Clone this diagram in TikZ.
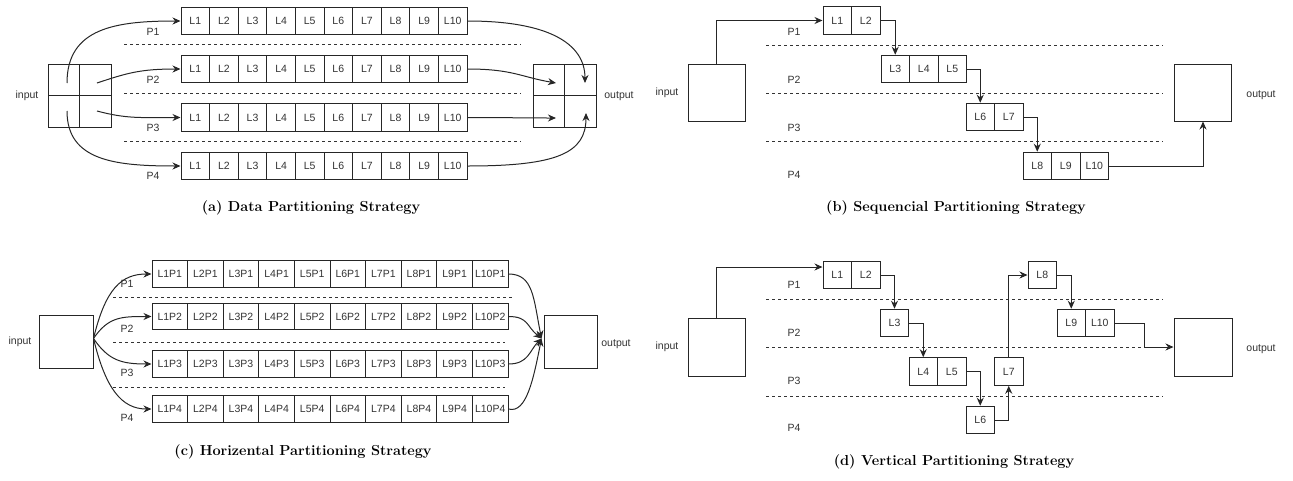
\documentclass[tikz,border=0pt]{standalone}
\usepackage{fontspec}
\newfontfamily\lab{Liberation Sans}
\usetikzlibrary{arrows.meta}
\begin{document}
\begin{tikzpicture}[x=1pt,y=-1pt,
 cell/.style={draw=black!85, line width=1pt, inner sep=0pt, minimum height=27.5pt, font=\lab\fontsize{10.5}{12}\selectfont, text=black!80},
 box/.style={draw=black!85, line width=1pt, inner sep=0pt},
 lbl/.style={font=\lab\fontsize{10.5}{12}\selectfont, text=black!80, inner sep=0pt},
 captext/.style={font=\fontsize{14.5}{17}\selectfont\bfseries, inner sep=0pt},
 sep/.style={draw=black!80, line width=0.8pt, dash pattern=on 3pt off 3pt},
 arr/.style={draw=black!85, line width=1pt, -{Stealth[length=8pt,width=7pt]}},
]
\useasboundingbox (0,0) rectangle (1293,480);

%%%%%%%%%%%%%%%% (a)
\foreach \r/\yy in {1/21,2/69,3/117.5,4/166}
  \foreach \i in {1,...,10}
    \node[cell, minimum width=28.6pt] (a\r-\i) at ({181+28.6*(\i-0.5)},\yy) {L\i};
\foreach \yy in {44,93,141} \draw[sep] (124,\yy) -- (521,\yy);
\foreach \p/\yy in {1/32,2/80,3/128,4/176} \node[lbl] (aP\p) at (153,\yy) {P\p};
% input quadrants
\node[box, minimum size=31.5pt] (ain1) at (63.75,79.75) {};
\node[box, minimum size=31.5pt] (ain2) at (95.25,79.75) {};
\node[box, minimum size=31.5pt] (ain3) at (95.25,111.25) {};
\node[box, minimum size=31.5pt] (ain4) at (63.75,111.25) {};
\node[lbl] (ainl) at (27,96) {input};
% output quadrants
\node[box, minimum size=31.5pt] (aout1) at (548.75,79.75) {};
\node[box, minimum size=31.5pt] (aout2) at (580.25,79.75) {};
\node[box, minimum size=31.5pt] (aout3) at (548.75,111.25) {};
\node[box, minimum size=31.5pt] (aout4) at (580.25,111.25) {};
\node[lbl] (aoutl) at (619,96) {output};
\coordinate (as1) at (67,83);
\coordinate (as2) at (97,83);
\coordinate (as3) at (97,111);
\coordinate (as4) at (67,111);
\coordinate (ae1) at (585,83);
\coordinate (ae2) at (556,83);
\coordinate (ae3) at (556,118);
\coordinate (ae4) at (586,113);
\draw[arr] (as1) .. controls +(0,-55) and +(-65,0) .. (a1-1.west);
\draw[arr] (as2) .. controls +(30,-10) and +(-40,0) .. (a2-1.west);
\draw[arr] (as3) .. controls +(30,8) and +(-40,0) .. (a3-1.west);
\draw[arr] (as4) .. controls +(0,50) and +(-65,0) .. (a4-1.west);
\draw[arr] (a1-10.east) .. controls +(80,0) and +(0,-40) .. (ae1);
\draw[arr] (a2-10.east) .. controls +(45,0) and +(-35,-6) .. (ae2);
\draw[arr] (a3-10.east) .. controls +(40,0) and +(-35,0) .. (ae3);
\draw[arr] (a4-10.east) .. controls +(90,0) and +(0,40) .. (ae4);
\node[captext] (acap) at (311,208) {(a) Data Partitioning Strategy};

%%%%%%%%%%%%%%%% (b)
\node[box, minimum size=57pt] (bin) at (716.5,92.5) {};
\node[lbl] (binl) at (667,93) {input};
\node[box, minimum size=57pt] (bout) at (1203,92.5) {};
\node[lbl] (boutl) at (1261,95) {output};
\foreach \yy in {45,93,141} \draw[sep] (766,\yy) -- (1163,\yy);
\foreach \p/\yy in {1/32,2/80,3/128,4/175} \node[lbl] (bP\p) at (794,\yy) {P\p};
\node[cell, minimum width=28.5pt] (b1) at (837.25,20.5) {L1};
\node[cell, minimum width=28.5pt] (b2) at (865.75,20.5) {L2};
\node[cell, minimum width=28.5pt] (b3) at (895.25,69) {L3};
\node[cell, minimum width=28.5pt] (b4) at (923.75,69) {L4};
\node[cell, minimum width=28.5pt] (b5) at (952.25,69) {L5};
\node[cell, minimum width=28.5pt] (b6) at (980.25,117) {L6};
\node[cell, minimum width=28.5pt] (b7) at (1008.75,117) {L7};
\node[cell, minimum width=28.5pt] (b8) at (1037.25,166) {L8};
\node[cell, minimum width=28.5pt] (b9) at (1065.75,166) {L9};
\node[cell, minimum width=28.5pt] (b10) at (1094.25,166) {L10};
\draw[arr] (bin.north) |- (b1.west);
\draw[arr] (b2.east) -| (b3.north);
\draw[arr] (b5.east) -| (b6.north);
\draw[arr] (b7.east) -| (b8.north);
\draw[arr] (b10.east) -| (bout.south);
\node[captext] (bcap) at (956,208) {(b) Sequencial Partitioning Strategy};

%%%%%%%%%%%%%%%% (c)
\foreach \r/\yy in {1/274,2/316.5,3/364,4/409}
  \foreach \i in {1,...,10}
    \node[cell, minimum width=35.6pt, minimum height=26.5pt] (c\r-\i) at ({152+35.6*(\i-0.5)},\yy) {L\i P\r};
\foreach \yy/\xe in {297/512,342/505,387/505} \draw[sep] (113,\yy) -- (\xe,\yy);
\foreach \p/\yy in {1/284,2/329,3/373,4/418} \node[lbl] (cP\p) at (127,\yy) {P\p};
\node[box, minimum width=54pt, minimum height=53pt] (cin) at (66,341.5) {};
\node[lbl] (cinl) at (20,342) {input};
\node[box, minimum width=53pt, minimum height=53pt] (cout) at (570.5,341.5) {};
\node[lbl] (coutl) at (616,344) {output};
\draw[arr] ([yshift=3pt]cin.east) .. controls +(12,-50) and +(-30,0) .. (c1-1.west);
\draw[arr] ([yshift=3pt]cin.east) .. controls +(15,-22) and +(-30,0) .. (c2-1.west);
\draw[arr] ([yshift=3pt]cin.east) .. controls +(15,22) and +(-30,0) .. (c3-1.west);
\draw[arr] ([yshift=3pt]cin.east) .. controls +(12,50) and +(-30,0) .. (c4-1.west);
\draw[arr] (c1-10.east) .. controls +(25,0) and +(-8,-40) .. ([xshift=-2pt,yshift=3pt]cout.west);
\draw[arr] (c2-10.east) .. controls +(20,0) and +(-15,-12) .. ([xshift=-2pt,yshift=3pt]cout.west);
\draw[arr] (c3-10.east) .. controls +(20,0) and +(-12,12) .. ([xshift=-2pt,yshift=3pt]cout.west);
\draw[arr] (c4-10.east) .. controls +(18,5) and +(-8,40) .. ([xshift=-2pt,yshift=3pt]cout.west);
\node[captext] (ccap) at (303,452) {(c) Horizental Partitioning Strategy};

%%%%%%%%%%%%%%%% (d)
\node[box, minimum width=57pt, minimum height=58pt] (din) at (716.5,347) {};
\node[lbl] (dinl) at (667,347) {input};
\node[box, minimum width=58pt, minimum height=58pt] (dout) at (1203,347) {};
\node[lbl] (doutl) at (1261,349) {output};
\foreach \yy in {299,347,396} \draw[sep] (766,\yy) -- (1163,\yy);
\foreach \p/\yy in {1/285,2/333,3/381,4/428} \node[lbl] (dP\p) at (794,\yy) {P\p};
\node[cell, minimum width=28.5pt] (d1) at (837.25,275) {L1};
\node[cell, minimum width=28.5pt] (d2) at (865.75,275) {L2};
\node[cell, minimum width=28.5pt] (d3) at (894.5,323) {L3};
\node[cell, minimum width=28.5pt] (d4) at (923.25,371.5) {L4};
\node[cell, minimum width=28.5pt] (d5) at (951.75,371.5) {L5};
\node[cell, minimum width=28.5pt] (d6) at (980.25,420) {L6};
\node[cell, minimum width=28.5pt] (d7) at (1008.75,371.5) {L7};
\node[cell, minimum width=28.5pt] (d8) at (1042.25,275) {L8};
\node[cell, minimum width=28.5pt] (d9) at (1071.25,323) {L9};
\node[cell, minimum width=28.5pt] (d10) at (1099.75,323) {L10};
\draw[arr] (din.north) |- ([yshift=8pt]d1.west);
\draw[arr] (d2.east) -| (d3.north);
\draw[arr] (d3.east) -| (d4.north);
\draw[arr] (d5.east) -| (d6.north);
\draw[arr] (d6.east) -| (d7.south);
\draw[arr] (d7.north) |- (d8.west);
\draw[arr] (d8.east) -| (d9.north);
\draw[arr] (d10.east) -- ++(30,0) |- (dout.west);
\node[captext] (dcap) at (954,462) {(d) Vertical Partitioning Strategy};
\end{tikzpicture}
\end{document}
